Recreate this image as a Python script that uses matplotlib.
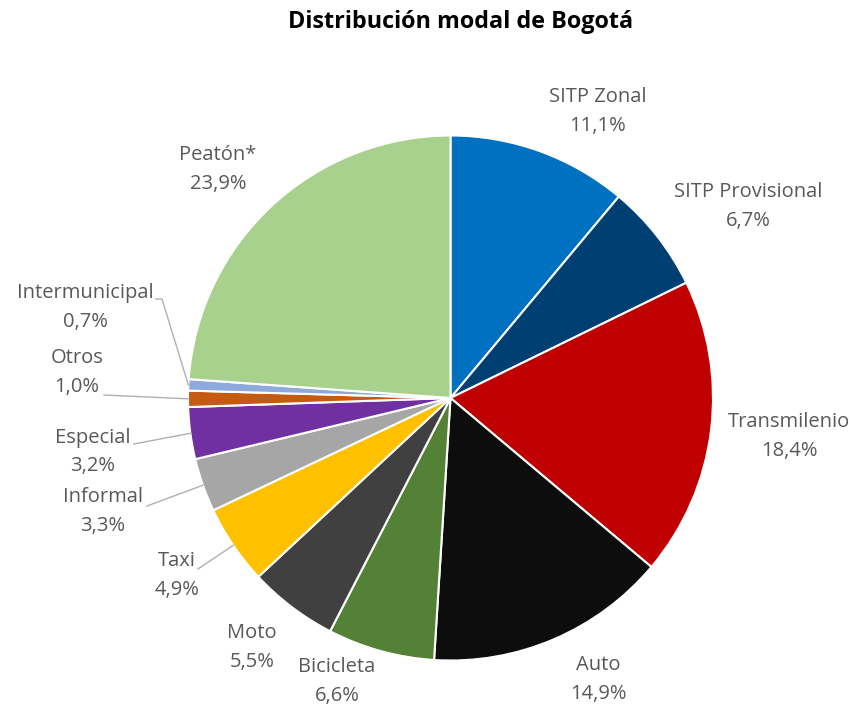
import numpy as np
import matplotlib.pyplot as plt

plt.rcParams['font.family'] = ['Open Sans', 'DejaVu Sans']

modos = ['SITP Zonal', 'SITP Provisional', 'Transmilenio', 'Auto', 'Bicicleta', 'Moto',
         'Taxi', 'Informal', 'Especial', 'Otros', 'Intermunicipal', 'Peatón*']
porcentajes = [11.1, 6.7, 18.4, 14.9, 6.6, 5.5, 4.9, 3.3, 3.2, 1.0, 0.7, 23.9]
colores = ['#0070C0', '#003F72', '#C00000', '#0D0D0D', '#538135', '#404040',
           '#FFC000', '#A6A6A6', '#7030A0', '#C55A11', '#8EA9DB', '#A9D18E']

# label centers in pixel coords (x, y from top)
pos_etiquetas = [(598, 112), (748, 207), (789, 437), (598, 680), (337, 682), (252, 647),
                 (177, 576), (103, 512), (93, 452), (77, 373), (85, 308), (218, 170)]
# which labels get a leader line and where it starts (pixel coords)
guias = {'Taxi': (198, 569), 'Informal': (147, 506), 'Especial': (134, 444),
         'Otros': (104, 395), 'Intermunicipal': (156, 299)}

W, H = 853, 707
cx, cy, r = 450.5, H - 398, 262.5

fig = plt.figure(figsize=(W / 100, H / 100), dpi=100)
ax = fig.add_axes([0, 0, 1, 1])
wedges, _ = ax.pie(porcentajes, colors=colores, startangle=90, counterclock=False,
                   center=(cx, cy), radius=r,
                   wedgeprops=dict(edgecolor='white', linewidth=1.5))
ax.set_xlim(0, W)
ax.set_ylim(0, H)
ax.set_aspect('equal')
ax.axis('off')

for nombre, val, (px, py), w in zip(modos, porcentajes, pos_etiquetas, wedges):
    txt = '{}\n{}%'.format(nombre, ('%.1f' % val).replace('.', ','))
    ax.text(px, H - py, txt, ha='center', va='center', fontsize=14.5,
            color='#595959', linespacing=1.6)
    if nombre in guias:
        sx, sy = guias[nombre]
        ang = np.deg2rad((w.theta1 + w.theta2) / 2)
        ex, ey = cx + r * np.cos(ang), cy + r * np.sin(ang)
        if nombre == 'Intermunicipal':
            ax.plot([sx, sx + 6, ex], [H - sy, H - sy, ey], color='#B0B0B0', lw=1)
        else:
            ax.plot([sx, ex], [H - sy, ey], color='#B0B0B0', lw=1)

ax.text(461, H - 22, 'Distribución modal de Bogotá', ha='center', va='center',
        fontsize=16.8, fontweight='bold', color='black')

fig.savefig('out.png', dpi=100, facecolor='white')
